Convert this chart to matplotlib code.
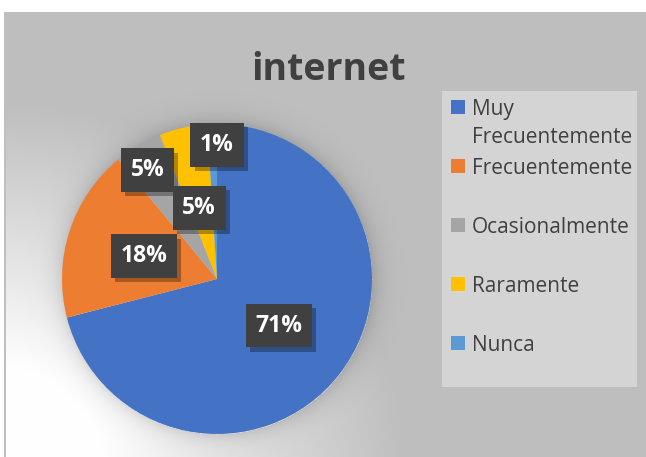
import numpy as np
import matplotlib
matplotlib.use('Agg')
import matplotlib.pyplot as plt
import matplotlib.patheffects as pe
from matplotlib.patches import Rectangle

labels = ['Muy\nFrecuentemente', 'Frecuentemente', 'Ocasionalmente', 'Raramente', 'Nunca']
values = [71, 18, 5, 5, 1]
colors = ['#4472C4', '#ED7D31', '#A5A5A5', '#FFC000', '#5B9BD5']
title = 'internet'

W, H = 646, 457
plt.rcParams['font.family'] = ['Open Sans', 'DejaVu Sans']

def fx(px):
    return px / W

def fy(py):
    return 1 - py / H

fig = plt.figure(figsize=(W / 100, H / 100), dpi=100)

# background: gray chart area, light towards bottom-left, soft glow around pie
yy, xx = np.mgrid[0:H, 0:W].astype(float)
t = np.sqrt((xx / 400.0) ** 2 + ((H - yy) / 350.0) ** 2)
k = np.clip((t - 0.25) / 0.75, 0, 1)
val = 255 - (255 - 191) * k
cx, cy, r = 217, 279, 155
d = np.sqrt((xx - cx) ** 2 + (yy - cy) ** 2) - r
val = val - np.where(d > 0, 28 * np.exp(-d / 10.0), 0)
val[:12, :] = 255
val[:, :4] = 255
val[12:, 4:6] = 191
img = np.dstack([val, val, val]) / 255.0
bg = fig.add_axes([0, 0, 1, 1])
bg.imshow(img, extent=(0, W, H, 0), aspect='auto', interpolation='bilinear')
bg.set_xlim(0, W)
bg.set_ylim(H, 0)
bg.axis('off')

# title
fig.text(fx(328), fy(80), title, ha='center', va='baseline', fontsize=27,
         fontweight='bold', color='#404040')

# pie
ax = fig.add_axes([fx(62), fy(434), 310 / W, 310 / H])
wedges, _ = ax.pie(values, colors=colors, startangle=90, counterclock=False,
                   radius=1, wedgeprops=dict(linewidth=0))
ax.set_xlim(-1, 1)
ax.set_ylim(-1, 1)

label_r = [0.5, 0.494, 0.834, 0.473, 0.865]
label_shift = [0.6, 0.6, 2.0, 1.6, -1.8]
for w, v, lr, sh in zip(wedges, values, label_r, label_shift):
    ang = np.deg2rad((w.theta1 + w.theta2) / 2 + sh)
    x, y = lr * np.cos(ang), lr * np.sin(ang)
    txt = ax.text(x, y, '{:.0f}%'.format(v), ha='center', va='center',
                  fontsize=16.5, fontweight='bold', color='white',
                  bbox=dict(boxstyle='square,pad=0.42', fc='#404040', ec='none'))
    txt.get_bbox_patch().set_path_effects([
        pe.SimplePatchShadow(offset=(3, -3), shadow_rgbFace='black', alpha=0.3),
        pe.Normal()])

# legend
fig.patches.append(Rectangle((fx(442), fy(387)), 195 / W, 296 / H,
                             transform=fig.transFigure, fc='#d4d4d4', ec='none'))
ys = [107, 166, 225, 284, 343]
for lab, c, yc in zip(labels, colors, ys):
    fig.patches.append(Rectangle((fx(451), fy(yc + 7)), 14 / W, 14 / H,
                                 transform=fig.transFigure, fc=c, ec='none'))
    for i, line in enumerate(lab.split('\n')):
        fig.text(fx(472), fy(yc + 8 + 28.5 * i), line, ha='left', va='baseline',
                 fontsize=15, color='#404040')

fig.savefig('out.png', dpi=100)
